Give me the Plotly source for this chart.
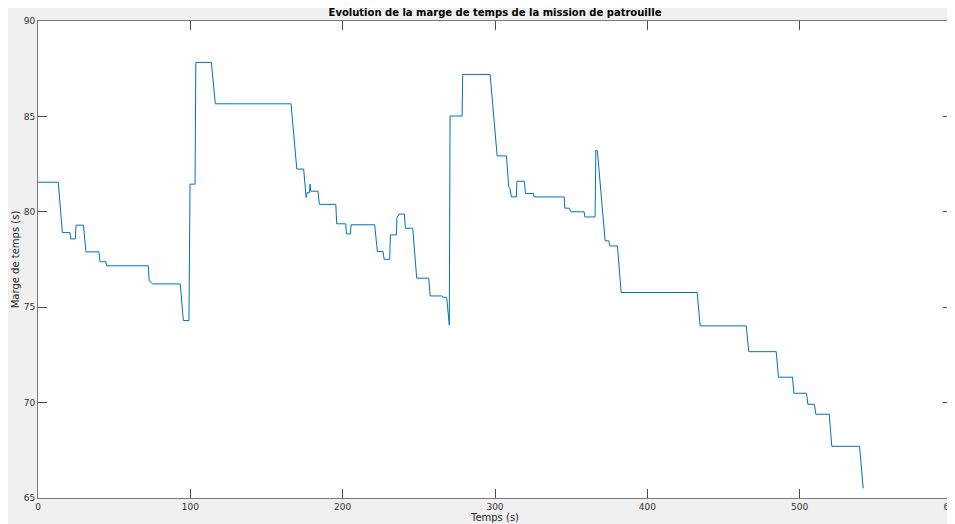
import plotly.graph_objects as go

temps = [0, 13.3, 16.0, 21.0, 21.5, 24.5, 25.0, 29.8, 31.5, 40.0, 40.7, 44.6, 45.0,
         72.4, 73.0, 75.3, 93.4, 95.4, 99.1, 99.8, 103.1, 103.6, 113.8, 116.4,
         166.1, 169.9, 174.4, 176.0, 176.6, 178.2, 178.6, 179.0, 183.8, 184.7,
         195.5, 196.1, 202.0, 202.5, 205.1, 205.5, 221.0, 222.8, 226.5, 227.2,
         230.9, 231.3, 235.3, 235.6, 237.2, 240.5, 241.2, 246.0, 248.6, 256.5,
         257.4, 265.3, 265.8, 268.3, 270.0, 270.5, 278.4, 278.8, 296.8, 301.4,
         307.5, 309.0, 309.9, 310.8, 314.0, 314.4, 319.3, 320.0, 325.2, 325.7,
         345.4, 345.8, 348.7, 349.8, 358.5, 359.0, 365.7, 366.2, 367.2, 372.3,
         374.7, 375.4, 380.4, 382.8, 432.7, 434.7, 464.9, 466.6, 484.6, 486.1,
         495.3, 496.2, 504.5, 505.4, 509.7, 510.6, 519.4, 521.1, 539.3, 541.7]
marge = [81.55, 81.55, 78.91, 78.91, 78.58, 78.58, 79.30, 79.30, 77.90, 77.90, 77.38, 77.38, 77.17,
         77.17, 76.38, 76.22, 76.22, 74.30, 74.30, 81.45, 81.45, 87.83, 87.83, 85.66,
         85.66, 82.24, 82.24, 80.75, 81.00, 81.00, 81.45, 81.08, 81.08, 80.39,
         80.39, 79.37, 79.37, 78.84, 78.84, 79.32, 79.32, 77.92, 77.92, 77.51,
         77.51, 78.79, 78.79, 79.70, 79.88, 79.88, 79.14, 79.14, 76.52, 76.52,
         75.59, 75.59, 75.52, 75.52, 74.06, 85.02, 85.02, 87.20, 87.20, 82.93,
         82.93, 81.32, 81.20, 80.78, 80.78, 81.60, 81.60, 80.96, 80.96, 80.78,
         80.78, 80.19, 80.19, 80.00, 80.00, 79.73, 79.73, 83.23, 83.20, 78.48,
         78.48, 78.21, 78.21, 75.77, 75.77, 74.02, 74.02, 72.67, 72.67, 71.33,
         71.33, 70.49, 70.49, 69.91, 69.91, 69.39, 69.39, 67.71, 67.71, 65.51]

x_ticks = [0, 100, 200, 300, 400, 500, 600]
y_ticks = [65, 70, 75, 80, 85, 90]

# the page body adds an 8px offset, so the figure is sized to fill the rest
W, H = 947, 516

fig = go.Figure()
fig.add_trace(go.Scatter(x=temps, y=marge, mode="lines",
                         line=dict(color="#0072BD", width=1), showlegend=False))

axis_style = dict(
    showline=True, linecolor="#7a7a7a", linewidth=1, mirror="ticks",
    ticks="inside", ticklen=9, tickcolor="#4d4d4d", tickwidth=1,
    showgrid=False, zeroline=False, automargin=False, ticklabeloverflow="allow",
    tickfont=dict(family="DejaVu Sans", size=9, color="#333333"),
)
fig.update_xaxes(range=[0, 600], tickvals=x_ticks,
                 title=dict(text="Temps (s)", standoff=0,
                            font=dict(family="DejaVu Sans", size=10, color="#262626")),
                 **axis_style)
fig.update_yaxes(range=[65, 90], tickvals=y_ticks,
                 title=dict(text="Marge de temps (s)", standoff=2,
                            font=dict(family="DejaVu Sans", size=10, color="#262626")),
                 **axis_style)

fig.update_layout(
    width=W, height=H,
    margin=dict(l=30, r=3, t=13, b=26),
    paper_bgcolor="#f0f0f0", plot_bgcolor="white",
    title=dict(text="<b>Evolution de la marge de temps de la mission de patrouille</b>",
               x=0.5, xref="paper", y=1 - 4.5 / H, yanchor="middle",
               font=dict(family="DejaVu Sans", size=10, color="#000000")),
)

fig.write_html("out.html")
